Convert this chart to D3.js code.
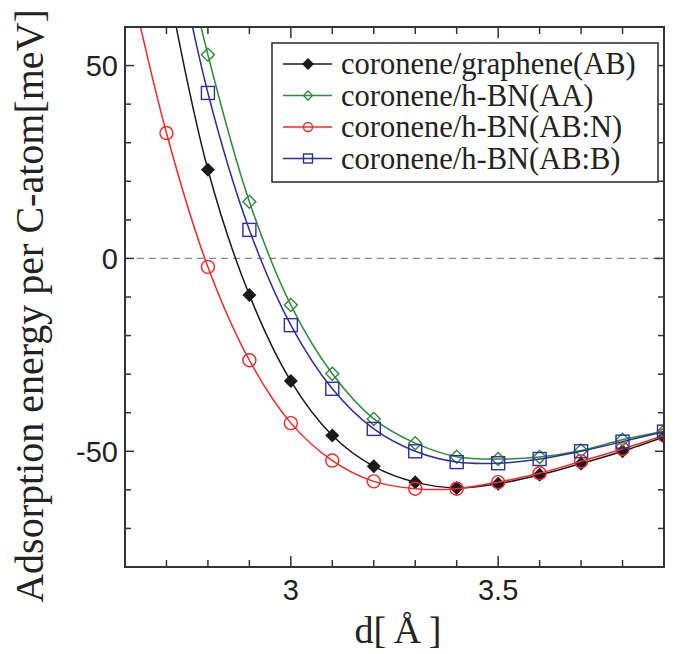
<!DOCTYPE html>
<html>
<head>
<meta charset="utf-8">
<script src="https://cdn.jsdelivr.net/npm/d3@7"></script>
<style>
    body { margin: 0; background: #fff; }
    svg { display: block; }
</style>
</head>
<body>
<script>
    var distances = [2.6, 2.7, 2.8, 2.9, 3.0, 3.1, 3.2, 3.3, 3.4, 3.5, 3.6, 3.7, 3.8, 3.9]

    var grapheneAB = [null, 73, 23, -9.5, -31.8, -45.9, -53.9, -58.0, -59.5, -58.4, -56.1, -53.2, -50.0, -46.3]
    var hbnAA = [null, 100, 52.8, 14.7, -12.1, -29.9, -41.6, -47.9, -51.4, -52.0, -51.5, -49.8, -47.0, -44.8]
    var hbnABN = [78, 32.5, -2.2, -26.4, -42.7, -52.4, -57.8, -59.7, -59.7, -58.0, -55.7, -52.6, -49.4, -45.9]
    var hbnABB = [null, 93, 42.9, 7.4, -17.3, -33.8, -44.2, -50.0, -52.8, -53.1, -52.0, -50.0, -47.5, -44.9]

    var seriesNames = ['coronene/graphene(AB)', 'coronene/h-BN(AA)', 'coronene/h-BN(AB:N)', 'coronene/h-BN(AB:B)']
    var seriesValues = [grapheneAB, hbnAA, hbnABN, hbnABB]
    var seriesColors = ['#1a1a1a', '#2e8b3a', '#ee2a2a', '#2e2e9e']
    var seriesMarkers = ['diamondFilled', 'diamond', 'circle', 'square']

    var xMajorTicks = [3, 3.5]
    var xMinorTicks = [2.7, 2.8, 2.9, 3.1, 3.2, 3.3, 3.4, 3.6, 3.7, 3.8]
    var yMajorTicks = [-50, 0, 50]
    var yMinorTicks = [-70, -60, -40, -30, -20, -10, 10, 20, 30, 40]

    var width = 676, height = 654
    var plotLeft = 125, plotRight = 664, plotTop = 27, plotBottom = 567

    var x = d3.scaleLinear().domain([2.6, 3.9]).range([plotLeft, plotRight])
    var y = d3.scaleLinear().domain([-80, 60]).range([plotBottom, plotTop])

    var svg = d3.select('body').append('svg')
        .attr('width', width)
        .attr('height', height)

    svg.append('clipPath').attr('id', 'plot')
        .append('rect')
        .attr('x', plotLeft).attr('y', plotTop)
        .attr('width', plotRight - plotLeft).attr('height', plotBottom - plotTop)

    // zero line
    svg.append('line')
        .attr('x1', plotLeft).attr('x2', plotRight)
        .attr('y1', y(0)).attr('y2', y(0))
        .attr('stroke', '#888')
        .attr('stroke-width', 1.3)
        .attr('stroke-dasharray', '7,5')

    // ticks on all four sides, pointing in
    function xTickLines(values, len) {
        var g = svg.append('g').attr('stroke', '#333').attr('stroke-width', 1.5)
        values.forEach(function (v) {
            g.append('line').attr('x1', x(v)).attr('x2', x(v)).attr('y1', plotBottom).attr('y2', plotBottom - len)
            g.append('line').attr('x1', x(v)).attr('x2', x(v)).attr('y1', plotTop).attr('y2', plotTop + len)
        })
    }
    function yTickLines(values, len) {
        var g = svg.append('g').attr('stroke', '#333').attr('stroke-width', 1.5)
        values.forEach(function (v) {
            g.append('line').attr('y1', y(v)).attr('y2', y(v)).attr('x1', plotLeft).attr('x2', plotLeft + len)
            g.append('line').attr('y1', y(v)).attr('y2', y(v)).attr('x1', plotRight).attr('x2', plotRight - len)
        })
    }
    xTickLines(xMinorTicks, 7)
    xTickLines(xMajorTicks, 11)
    yTickLines(yMinorTicks, 6)
    yTickLines(yMajorTicks, 9)

    svg.selectAll('text.xtick')
        .data(xMajorTicks)
        .enter()
        .append('text')
        .attr('class', 'xtick')
        .attr('x', function (d) { return x(d) })
        .attr('y', 600)
        .attr('text-anchor', 'middle')
        .style('font-family', '"Liberation Sans", Arial, sans-serif')
        .style('font-size', '29px')
        .style('fill', '#222')
        .text(function (d) { return d })

    svg.selectAll('text.ytick')
        .data(yMajorTicks)
        .enter()
        .append('text')
        .attr('class', 'ytick')
        .attr('x', 118)
        .attr('y', function (d) { return y(d) + 10.5 })
        .attr('text-anchor', 'end')
        .style('font-family', '"Liberation Sans", Arial, sans-serif')
        .style('font-size', '29px')
        .style('fill', '#222')
        .text(function (d) { return d })

    // axis titles
    svg.append('text')
        .attr('x', 398).attr('y', 643)
        .attr('text-anchor', 'middle')
        .style('font-family', '"Liberation Serif", "Times New Roman", serif')
        .style('font-size', '38px')
        .style('fill', '#222')
        .text('d[\u2009Å\u2009]')

    svg.append('text')
        .attr('transform', 'translate(43,306) rotate(-90)')
        .attr('text-anchor', 'middle')
        .style('font-family', '"Liberation Serif", "Times New Roman", serif')
        .style('font-size', '40px')
        .style('fill', '#222')
        .text('Adsorption energy per C-atom[meV]')

    function drawMarker(g, type, color, cx, cy, s) {
        if (type === 'circle') {
            g.append('circle').attr('cx', cx).attr('cy', cy).attr('r', s)
                .attr('fill', 'none').attr('stroke', color).attr('stroke-width', 1.4)
        } else if (type === 'square') {
            g.append('rect').attr('x', cx - s).attr('y', cy - s)
                .attr('width', 2 * s).attr('height', 2 * s)
                .attr('fill', 'none').attr('stroke', color).attr('stroke-width', 1.4)
        } else {
            var d = 'M' + cx + ',' + (cy - s) + 'L' + (cx + s) + ',' + cy +
                'L' + cx + ',' + (cy + s) + 'L' + (cx - s) + ',' + cy + 'Z'
            g.append('path').attr('d', d)
                .attr('fill', type === 'diamondFilled' ? color : 'none')
                .attr('stroke', color).attr('stroke-width', 1.4)
        }
    }

    var line = d3.line()
        .x(function (d) { return x(d.x) })
        .y(function (d) { return y(d.y) })
        .curve(d3.curveCatmullRom)

    var plot = svg.append('g').attr('clip-path', 'url(#plot)')

    seriesValues.forEach(function (vals, i) {
        var pts = []
        vals.forEach(function (v, j) {
            if (v !== null) pts.push({x: distances[j], y: v})
        })
        var g = plot.append('g')
        g.append('path')
            .attr('d', line(pts))
            .attr('fill', 'none')
            .attr('stroke', seriesColors[i])
            .attr('stroke-width', 1.5)
        pts.forEach(function (p) {
            if (p.y > 60 || p.x <= 2.6) return
            var size = seriesMarkers[i] === 'diamondFilled' ? 6 : 6.5
            drawMarker(g, seriesMarkers[i], seriesColors[i], x(p.x), y(p.y), size)
        })
    })

    // frame
    svg.append('rect')
        .attr('x', plotLeft).attr('y', plotTop)
        .attr('width', plotRight - plotLeft).attr('height', plotBottom - plotTop)
        .attr('fill', 'none')
        .attr('stroke', '#333')
        .attr('stroke-width', 2)

    // legend
    var legend = svg.append('g')
    legend.append('rect')
        .attr('x', 272).attr('y', 43)
        .attr('width', 386).attr('height', 139)
        .attr('fill', '#fff')
        .attr('stroke', '#333')
        .attr('stroke-width', 1.6)

    seriesNames.forEach(function (name, i) {
        var ly = 64 + i * 31.5
        legend.append('line')
            .attr('x1', 283).attr('x2', 332)
            .attr('y1', ly).attr('y2', ly)
            .attr('stroke', seriesColors[i])
            .attr('stroke-width', 1.5)
        drawMarker(legend, seriesMarkers[i], seriesColors[i], 308, ly, seriesMarkers[i] === 'diamondFilled' ? 5 : 4.5)
        legend.append('text')
            .attr('x', 341)
            .attr('y', ly + 10)
            .style('font-family', '"Liberation Serif", "Times New Roman", serif')
            .style('font-size', '30.5px')
            .style('fill', '#222')
            .text(name)
    })
</script>
</body>
</html>
